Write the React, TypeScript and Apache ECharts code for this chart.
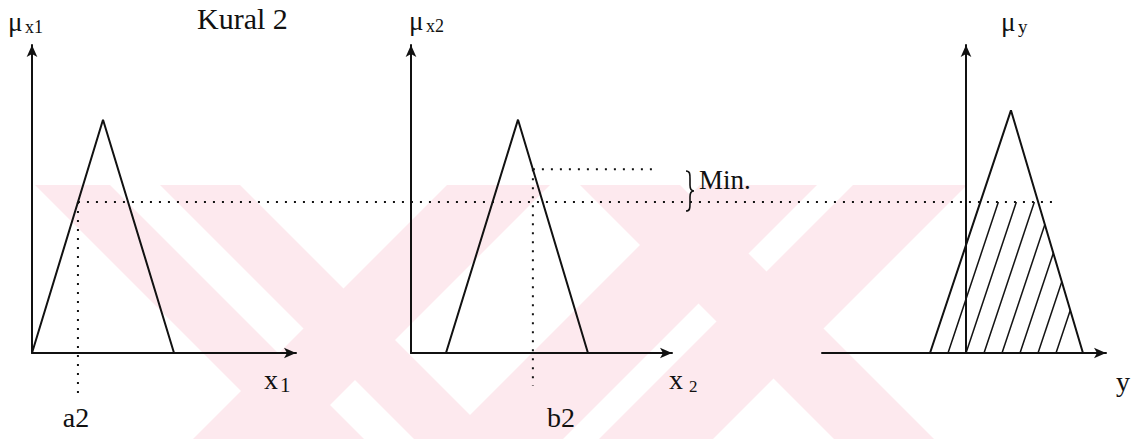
import React, { useEffect, useRef } from "react";
import * as echarts from "echarts";

// ---- Data ----
// Triangular membership functions: x of [left foot, peak, right foot], heights
const tri1X = [0, 2.69, 5.38];
const tri1Y = [0, 1, 0];
const tri2X = [1.34, 4.1, 6.78];
const tri2Y = [0, 1, 0];
const tri3X = [-1.25, 1.56, 4.06];
const tri3Y = [0, 1.04, 0];

// crisp inputs
const a2 = 1.74;
const b2 = 4.67;

// extents of the guide lines (in each panel's own units)
const b2LineEnd = 9.43;
const minLineEnd = 3.09;
const dropBelowA = -0.19;
const dropBelowB = -0.14;

// axis ranges
const axisMaxY = 1.32;
const axisX1 = [0, 10];
const axisX2 = [0, 10];
const axisX3 = [-5, 4.86];

// hatching of the clipped output set
const hatchStep = 0.625;
const hatchCount = 7;

// ---- derived values ----
const muA = ((a2 - tri1X[0]) / (tri1X[1] - tri1X[0])) * tri1Y[1];
const muB = ((tri2X[2] - b2) / (tri2X[2] - tri2X[1])) * tri2Y[1];
const minLevel = Math.min(muA, muB);

const INK = "#111";
const SERIF = "Liberation Serif";
const PINK = "#fde9ee";

const BRACE_D =
  "M0,0 C4,0 4,3 4,8 L4,14 C4,18 5,20 8,20 C5,20 4,22 4,26 L4,32 C4,37 4,40 0,40";
let braceRegistered = false;

function toPts(xs: number[], ys: number[]) {
  return xs.map((x, i) => [x, ys[i]]);
}

function hatchLines() {
  const L = tri3X[0], P = tri3X[1], R = tri3X[2], h = tri3Y[1];
  const leftSlope = (P - L) / h;
  const rightSlope = (R - P) / h;
  const out: number[][][] = [];
  for (let k = 1; k <= hatchCount; k++) {
    const x0 = L + k * hatchStep;
    const muHit = (R - x0) / (leftSlope + rightSlope);
    const top = Math.min(minLevel, muHit);
    out.push([
      [x0, 0],
      [x0 + leftSlope * top, top],
    ]);
  }
  return out;
}

function lineSeries(gi: number, data: number[][], dotted = false, width = 2) {
  return {
    type: "line",
    xAxisIndex: gi,
    yAxisIndex: gi,
    data,
    symbol: "none",
    silent: true,
    clip: false,
    z: 3,
    lineStyle: {
      color: INK,
      width,
      type: dotted ? [2, 7] : "solid",
      cap: "butt",
    },
  };
}

function band(l: number, r: number, s: number) {
  const top = 185, bot = 439, d = (bot - top) * s;
  return {
    type: "polygon",
    z: -10,
    silent: true,
    shape: { points: [[l, top], [r, top], [r + d, bot], [l + d, bot]] },
    style: { fill: PINK },
  };
}

function txt(text: string, x: number, y: number, size: number, align = "left") {
  return {
    type: "text",
    z: 20,
    silent: true,
    style: {
      text,
      x,
      y,
      fontFamily: SERIF,
      fontSize: size,
      fill: INK,
      textAlign: align,
      align,
      textVerticalAlign: "middle",
      verticalAlign: "middle",
    },
  };
}

export default function App() {
  const ref = useRef<HTMLDivElement>(null);

  useEffect(() => {
    if (!braceRegistered) {
      echarts.graphic.registerShape("brace", echarts.graphic.extendPath(BRACE_D, {}) as any);
      braceRegistered = true;
    }
    const chart = echarts.init(ref.current!, null, { renderer: "svg" });

    const axisCommon = {
      type: "value",
      axisTick: { show: false },
      axisLabel: { show: false },
      splitLine: { show: false },
    };
    const axisLine = {
      show: true,
      onZero: true,
      symbol: ["none", "arrow"],
      symbolSize: [8, 12],
      lineStyle: { color: INK, width: 2 },
    };

    const grids = [
      { left: 32, top: 45, width: 264, height: 308 },
      { left: 411, top: 45, width: 261, height: 308 },
      { left: 822, top: 45, width: 284, height: 308 },
    ];
    const xr = [axisX1, axisX2, axisX3];

    const series: any[] = [
      lineSeries(0, toPts(tri1X, tri1Y)),
      lineSeries(0, [[a2, muA], [a2, dropBelowA]], true),
      lineSeries(1, toPts(tri2X, tri2Y)),
      lineSeries(1, [[b2, muB], [b2, dropBelowB]], true),
      lineSeries(1, [[b2, muB], [b2LineEnd, muB]], true),
      lineSeries(2, toPts(tri3X, tri3Y)),
      ...hatchLines().map((seg) => lineSeries(2, seg, false, 1.5)),
    ];

    chart.setOption({
      animation: false,
      backgroundColor: "#fff",
      grid: grids,
      xAxis: xr.map((r, i) => ({ ...axisCommon, gridIndex: i, min: r[0], max: r[1], axisLine })),
      yAxis: grids.map((_, i) => ({ ...axisCommon, gridIndex: i, min: 0, max: axisMaxY, axisLine })),
      series,
    });

    const pA = chart.convertToPixel({ gridIndex: 0 } as any, [a2, minLevel]) as number[];
    const pE = chart.convertToPixel({ gridIndex: 2 } as any, [minLineEnd, minLevel]) as number[];

    const watermark = [
      band(35, 110, 1),
      band(160, 240, 1),
      band(580, 680, 1),
      band(447, 550, -1),
      band(700, 817, -1),
      band(853, 967, -1),
    ];

    const labels = [
      txt("Kural 2", 197, 18, 30),
      txt("μ", 8, 22, 27),
      txt("x1", 25, 27, 18),
      txt("μ", 409, 21, 27),
      txt("x2", 426, 26, 18),
      txt("μ", 1001, 22, 27),
      txt("y", 1018, 26, 19),
      txt("x", 264, 379, 28),
      txt("1", 280, 385, 21),
      txt("x", 669, 379, 28),
      txt("2", 689, 386, 17),
      txt("y", 1116, 381, 28),
      txt("a2", 76, 417, 28, "center"),
      txt("b2", 547, 417, 28),
      txt("Min.", 699, 180, 27),
      {
        type: "brace",
        z: 20,
        silent: true,
        x: 686,
        y: 171,
        style: { stroke: INK, fill: "none", lineWidth: 1.6 },
      },
    ];

    chart.setOption({
      graphic: [
        ...watermark,
        ...labels,
        {
          type: "line",
          z: 15,
          silent: true,
          shape: { x1: pA[0], y1: pA[1], x2: pE[0], y2: pE[1] },
          style: { stroke: INK, lineWidth: 2, lineDash: [2, 7] },
        },
      ],
    });

    return () => chart.dispose();
  }, []);

  return (
    <div
      ref={ref}
      style={{ position: "fixed", left: 0, top: 0, width: 1147, height: 439, background: "#fff" }}
    />
  );
}
